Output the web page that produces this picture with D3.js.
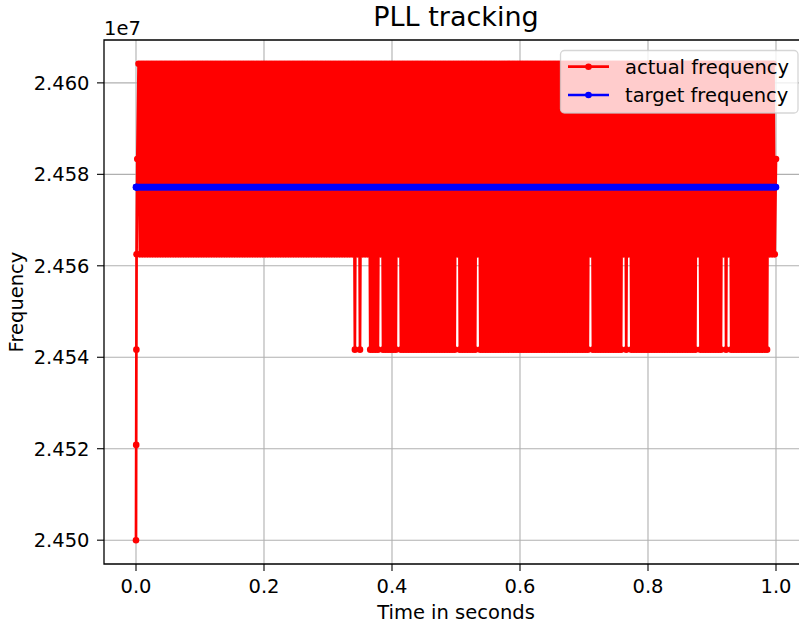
<!DOCTYPE html>
<html>
<head>
<meta charset="utf-8">
<script src="https://cdn.jsdelivr.net/npm/d3@7"></script>
<style>
  body { margin: 0; background: #fff; }
  svg { display: block; font-family: "DejaVu Sans", sans-serif; }
</style>
</head>
<body>
<svg id="chart" width="799" height="624"></svg>
<script>
// Quantised output frequencies of the loop (Hz), indexed by level code
const frequencyLevels = [24500000, 24520833, 24541667, 24562500, 24583333, 24604167];

// Lock-in transient right at t = 0 (seconds) and its level codes
const transientTimes = [0, 0.0003, 0.0006, 0.0009];
const transientLevels = [0, 1, 2, 3];

// Steady-state samples every 2 ms from t = 0.002 s up to t = 1.0 s (level codes)
const sampleStep = 0.002;
const steadyLevels = [
  "45353535353535353535353535353535353535353535353535",
  "35353535353535353535353535353535353535353535353535",
  "35353535353535353535353535353535353535353535353535",
  "35353535353535353535253525353535252525253525252525",
  "25253525252525252525252525252525252525252525252525",
  "35252525252525253525252525252525252525252525252525",
  "25252525252525252525252525252525252525252525252525",
  "25253525252525252525252525252535253525252525252525",
  "25252525252525252525252525252525252525352525252525",
  "25252525352535252525252525252525252525252525353534"
].join("");

// Reference the loop is steering towards (Hz)
const targetFrequency = 24577200;

const xTicks = [0, 0.2, 0.4, 0.6, 0.8, 1.0];
const xTickLabels = ["0.0", "0.2", "0.4", "0.6", "0.8", "1.0"];
const yTicks = [24500000, 24520000, 24540000, 24560000, 24580000, 24600000];
const yTickLabels = ["2.450", "2.452", "2.454", "2.456", "2.458", "2.460"];

const seriesNames = ["actual frequency", "target frequency"];
const seriesColors = ["#ff0000", "#0000ff"];

// ---- build the series ----
const steadyTimes = d3.range(1, steadyLevels.length + 1).map(k => +(k * sampleStep).toFixed(4));
const times = transientTimes.concat(steadyTimes);
const codes = transientLevels.concat(steadyLevels.split("").map(Number));
const actual = times.map((t, i) => ({ t, f: frequencyLevels[codes[i]] }));
const target = times.map(t => ({ t, f: targetFrequency }));

// ---- layout ----
const plot = { left: 104, top: 40, right: 808, bottom: 564 };
const fontSize = 19.5;

const xExt = d3.extent(times);
const xPad = (xExt[1] - xExt[0]) * 0.05;
const x = d3.scaleLinear().domain([xExt[0] - xPad, xExt[1] + xPad]).range([plot.left, plot.right]);

const yExt = d3.extent(actual.concat(target), d => d.f);
const yPad = (yExt[1] - yExt[0]) * 0.05;
const y = d3.scaleLinear().domain([yExt[0] - yPad, yExt[1] + yPad]).range([plot.bottom, plot.top]);

const svg = d3.select("#chart");

svg.append("defs").append("clipPath").attr("id", "plot-clip")
  .append("rect")
  .attr("x", plot.left).attr("y", plot.top)
  .attr("width", plot.right - plot.left).attr("height", plot.bottom - plot.top);

// ---- grid ----
const grid = svg.append("g").attr("stroke", "#b0b0b0").attr("stroke-width", 1.1);
grid.selectAll("line.gx").data(xTicks).join("line")
  .attr("x1", d => x(d)).attr("x2", d => x(d))
  .attr("y1", plot.top).attr("y2", plot.bottom);
grid.selectAll("line.gy").data(yTicks).join("line")
  .attr("y1", d => y(d)).attr("y2", d => y(d))
  .attr("x1", plot.left).attr("x2", plot.right);

// ---- data ----
const lineGen = d3.line().x(d => x(d.t)).y(d => y(d.f));
const dataLayer = svg.append("g").attr("clip-path", "url(#plot-clip)");

function drawSeries(data, color) {
  dataLayer.append("path")
    .datum(data)
    .attr("d", lineGen)
    .attr("fill", "none")
    .attr("stroke", color)
    .attr("stroke-width", 2.7)
    .attr("stroke-linejoin", "round");
  dataLayer.append("g").selectAll("circle").data(data).join("circle")
    .attr("cx", d => x(d.t))
    .attr("cy", d => y(d.f))
    .attr("r", 3.3)
    .attr("fill", color);
}
drawSeries(actual, seriesColors[0]);
drawSeries(target, seriesColors[1]);

// ---- axes frame (left, top, bottom; the right side lies past the canvas) ----
const axes = svg.append("g");
axes.append("path")
  .attr("d", `M${plot.right},${plot.top}H${plot.left}V${plot.bottom}H${plot.right}`)
  .attr("fill", "none").attr("stroke", "#000").attr("stroke-width", 1.3);

// x ticks
axes.selectAll("line.xt").data(xTicks).join("line")
  .attr("x1", d => x(d)).attr("x2", d => x(d))
  .attr("y1", plot.bottom).attr("y2", plot.bottom + 7)
  .attr("stroke", "#000").attr("stroke-width", 1.1);
axes.selectAll("text.xt").data(xTicks).join("text")
  .attr("x", d => x(d)).attr("y", 592.5)
  .attr("text-anchor", "middle")
  .attr("font-size", fontSize)
  .attr("fill", "#000")
  .text((d, i) => xTickLabels[i]);

// y ticks
axes.selectAll("line.yt").data(yTicks).join("line")
  .attr("y1", d => y(d)).attr("y2", d => y(d))
  .attr("x1", plot.left - 7).attr("x2", plot.left)
  .attr("stroke", "#000").attr("stroke-width", 1.1);
axes.selectAll("text.yt").data(yTicks).join("text")
  .attr("x", 89.5).attr("y", d => y(d))
  .attr("dy", "0.36em")
  .attr("text-anchor", "end")
  .attr("font-size", fontSize)
  .attr("fill", "#000")
  .text((d, i) => yTickLabels[i]);

// scale multiplier shown above the y axis
svg.append("text").attr("x", plot.left).attr("y", 35)
  .attr("font-size", fontSize).attr("fill", "#000").text("1e7");

// axis labels
svg.append("text").attr("x", (plot.left + plot.right) / 2).attr("y", 619)
  .attr("text-anchor", "middle").attr("font-size", fontSize).attr("fill", "#000")
  .text("Time in seconds");
svg.append("text")
  .attr("transform", `translate(23,${(plot.top + plot.bottom) / 2}) rotate(-90)`)
  .attr("text-anchor", "middle").attr("font-size", fontSize).attr("fill", "#000")
  .text("Frequency");

// title
svg.append("text").attr("x", (plot.left + plot.right) / 2).attr("y", 26)
  .attr("text-anchor", "middle").attr("font-size", 27).attr("fill", "#000")
  .text("PLL tracking");

// ---- legend ----
const legend = svg.append("g");
legend.append("rect")
  .attr("x", 560.5).attr("y", 50.5)
  .attr("width", 237.5).attr("height", 62.5)
  .attr("rx", 4).attr("ry", 4)
  .attr("fill", "#fff").attr("fill-opacity", 0.8)
  .attr("stroke", "#cccccc").attr("stroke-opacity", 0.8).attr("stroke-width", 1.3);

seriesNames.forEach((name, i) => {
  const cy = 66.7 + i * 28.3;
  legend.append("line")
    .attr("x1", 568).attr("x2", 609).attr("y1", cy).attr("y2", cy)
    .attr("stroke", seriesColors[i]).attr("stroke-width", 2.7);
  legend.append("circle")
    .attr("cx", 588.5).attr("cy", cy).attr("r", 3.3)
    .attr("fill", seriesColors[i]);
  legend.append("text")
    .attr("x", 625).attr("y", cy + 6.8)
    .attr("font-size", fontSize).attr("fill", "#000")
    .text(name);
});
</script>
</body>
</html>
